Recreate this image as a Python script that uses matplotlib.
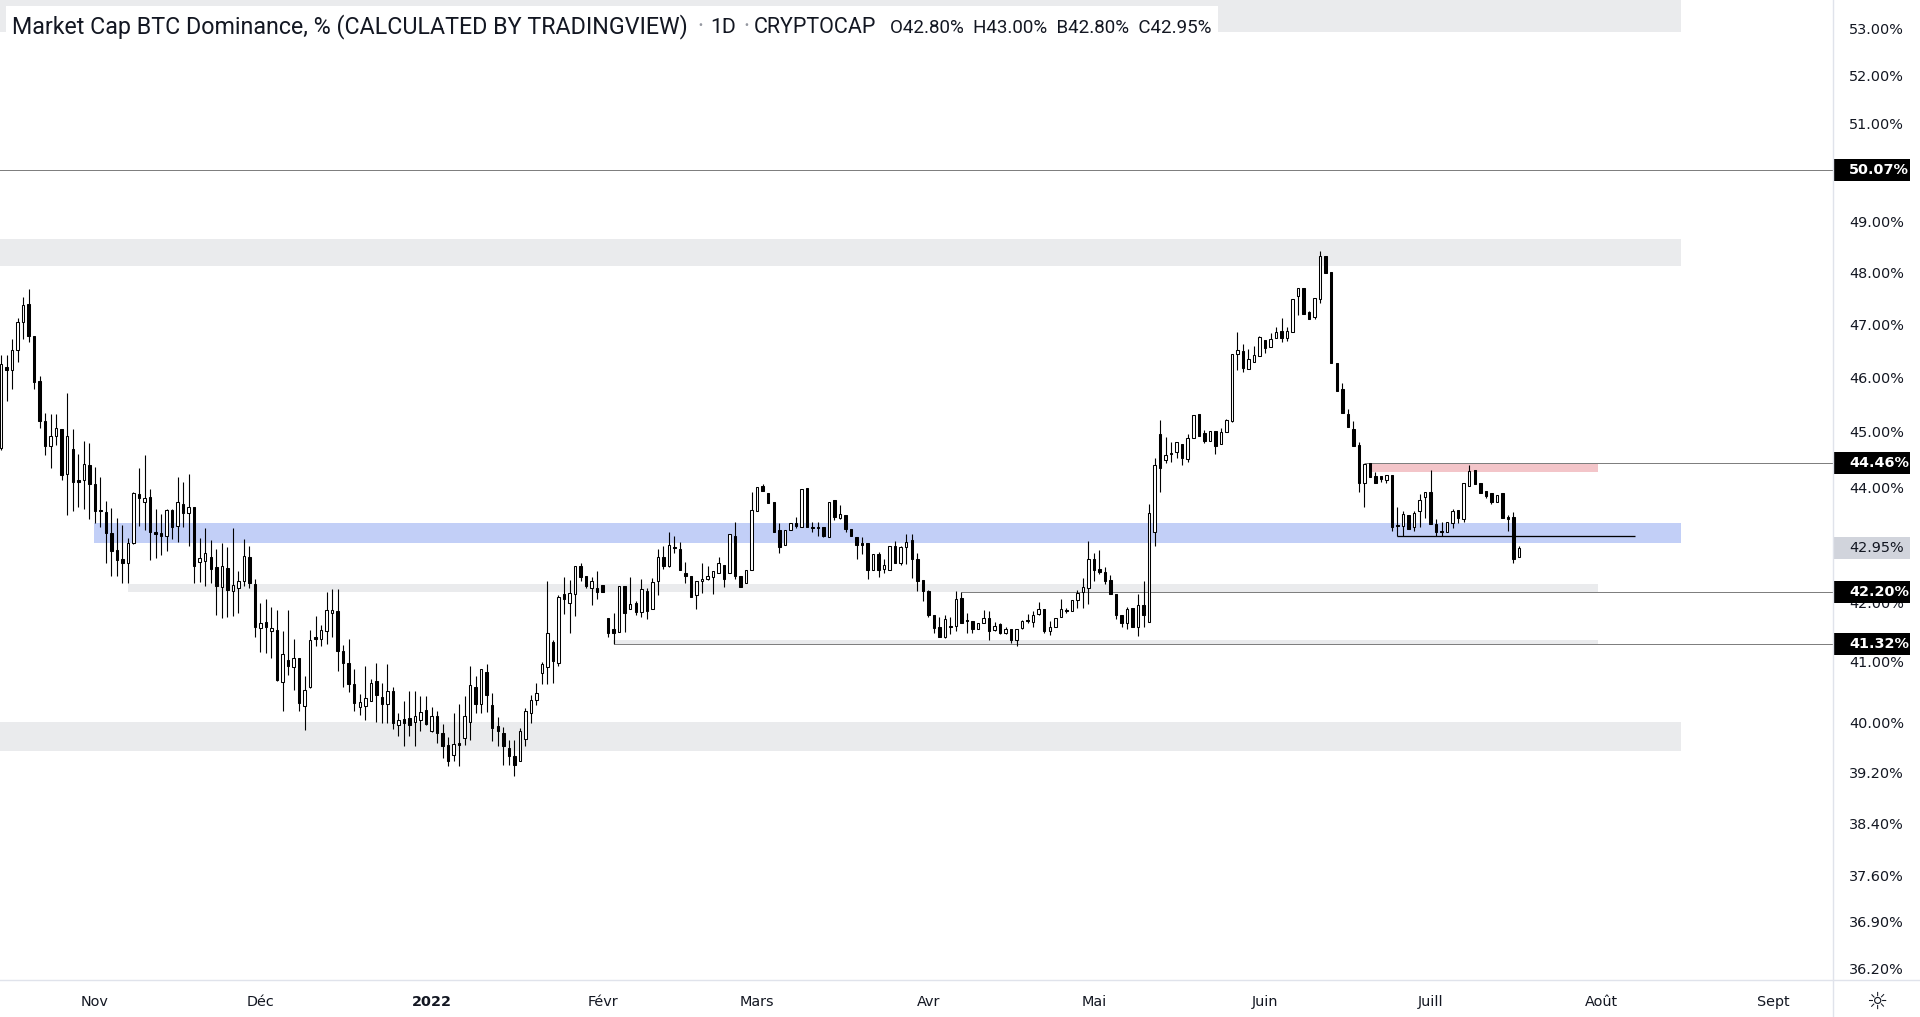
import matplotlib
matplotlib.use("Agg")
import matplotlib.pyplot as plt
import matplotlib.dates as mdates
from matplotlib.patches import Rectangle
from matplotlib.lines import Line2D
from matplotlib.ticker import NullLocator
import numpy as np
import pandas as pd

# ---------------- data ----------------
start_date = "2021-10-15"

opens = [
    44.73, 46.22, 46.17, 46.54, 47.07, 47.42, 46.81, 45.97, 45.23, 44.78,
    44.96, 45.08, 44.26, 44.72, 44.16, 44.15, 44.43, 44.09, 43.63, 43.59,
    43.22, 42.93, 42.76, 42.69, 43.04, 43.91, 43.76, 43.85, 43.23, 43.22,
    43.17, 43.63, 43.35, 43.74, 43.57, 43.67, 42.71, 42.74, 42.80, 42.63,
    42.29, 42.61, 42.22, 42.26, 42.38, 42.80, 42.34, 41.59, 41.69, 41.53,
    41.56, 40.69, 41.05, 40.94, 41.09, 40.30, 40.60, 41.43, 41.41, 41.53,
    41.85, 41.88, 41.20, 41.00, 40.66, 40.27, 40.30, 40.38, 40.71, 40.44,
    40.32, 40.54, 39.98, 40.08, 40.10, 40.03, 40.06, 40.23, 39.89, 40.13,
    39.85, 39.66, 39.51, 39.69, 39.77, 40.04, 40.60, 40.32, 40.85, 40.31,
    39.97, 39.85, 39.61, 39.49, 39.41, 39.76, 40.18, 40.40, 40.83, 40.93,
    41.36, 41.00, 42.17, 42.02, 42.16, 42.64, 42.47, 42.26, 42.27, 42.32,
    41.75, 41.57, 41.52, 42.30, 41.91, 42.02, 41.86, 42.22, 41.91, 42.38,
    42.80, 42.65, 42.98, 42.94, 42.52, 42.48, 42.14, 42.38, 42.43, 42.46,
    42.52, 42.66, 42.52, 43.17, 42.48, 42.35, 42.57, 43.60, 44.05, 43.92,
    43.76, 43.27, 43.01, 43.28, 43.39, 43.33, 44.01, 43.33, 43.32, 43.32,
    43.15, 43.80, 43.48, 43.54, 43.29, 43.15, 43.04, 43.04, 42.57, 42.85,
    42.59, 42.58, 43.00, 42.69, 42.97, 43.10, 42.76, 42.41, 42.22, 41.81,
    41.61, 41.43, 41.63, 41.63, 42.09, 41.72, 41.71, 41.57, 41.68, 41.75,
    41.55, 41.65, 41.50, 41.57, 41.38, 41.59, 41.72, 41.69, 41.82, 41.91,
    41.53, 41.60, 41.77, 41.89, 41.88, 42.06, 42.20, 42.26, 42.77, 42.60,
    42.54, 42.41, 42.17, 41.81, 41.68, 41.92, 41.61, 41.97, 41.69, 43.24,
    44.99, 44.51, 44.65, 44.66, 44.80, 44.54, 44.91, 45.35, 45.00, 44.87,
    45.05, 44.80, 45.02, 45.23, 46.48, 46.53, 46.19, 46.33, 46.44, 46.74,
    46.61, 46.77, 46.91, 46.77, 46.88, 47.57, 47.74, 47.27, 47.17, 47.51,
    48.36, 48.04, 46.30, 45.81, 45.36, 45.08, 44.79, 44.10, 44.47, 44.23,
    44.23, 44.16, 44.25, 43.36, 43.35, 43.54, 43.32, 43.60, 43.85, 43.94,
    43.37, 43.26, 43.24, 43.39, 43.63, 43.47, 44.06, 44.34, 44.10, 43.96,
    43.92, 43.77, 43.92, 43.50, 43.50, 42.80,
]
highs = [
    46.45, 46.45, 46.76, 47.16, 47.56, 47.71, 46.81, 46.06, 45.37, 45.36,
    45.36, 45.08, 45.74, 45.08, 44.63, 44.86, 44.83, 44.40, 44.21, 43.79,
    43.66, 43.48, 43.36, 43.13, 43.94, 44.37, 44.61, 44.00, 43.64, 43.56,
    43.64, 43.64, 44.21, 44.12, 44.27, 43.67, 43.14, 43.31, 43.10, 42.94,
    43.05, 42.97, 43.31, 42.56, 43.11, 42.99, 42.42, 42.01, 42.08, 41.94,
    41.89, 41.53, 41.89, 41.40, 41.09, 40.79, 41.56, 41.79, 41.64, 42.20,
    42.25, 42.25, 41.30, 41.40, 40.90, 40.49, 40.95, 40.74, 41.00, 40.67,
    40.99, 40.60, 40.18, 40.38, 40.54, 40.54, 40.46, 40.46, 40.28, 40.21,
    40.00, 39.79, 40.18, 40.33, 40.45, 40.96, 40.79, 40.90, 40.99, 40.50,
    40.12, 39.96, 39.74, 39.74, 39.93, 40.26, 40.48, 40.67, 41.02, 42.39,
    41.38, 42.14, 42.46, 42.41, 42.64, 42.69, 42.47, 42.46, 42.56, 42.32,
    41.75, 41.84, 42.30, 42.30, 42.46, 42.05, 42.42, 42.26, 42.44, 42.94,
    43.00, 43.23, 43.17, 43.07, 42.71, 42.48, 42.38, 42.69, 42.64, 42.56,
    42.81, 42.66, 43.20, 43.42, 42.48, 42.58, 43.94, 44.03, 44.09, 43.92,
    43.76, 43.39, 43.27, 43.39, 43.50, 43.99, 44.01, 43.41, 43.41, 43.32,
    43.77, 43.80, 43.71, 43.54, 43.29, 43.15, 43.15, 43.04, 42.85, 42.89,
    42.77, 43.00, 43.08, 42.99, 43.21, 43.21, 42.88, 42.41, 42.23, 41.81,
    41.77, 41.81, 41.77, 42.22, 42.20, 41.84, 41.71, 41.67, 41.89, 41.87,
    41.69, 41.67, 41.60, 41.57, 41.57, 41.72, 41.82, 41.88, 42.03, 41.91,
    41.71, 41.75, 42.08, 41.93, 42.06, 42.24, 42.44, 43.08, 42.88, 42.92,
    42.63, 42.49, 42.17, 41.81, 41.94, 41.92, 42.16, 42.39, 43.74, 44.56,
    45.25, 44.93, 44.84, 44.84, 44.80, 44.99, 45.34, 45.35, 45.06, 45.05,
    45.05, 45.10, 45.26, 46.47, 46.88, 46.67, 46.57, 46.62, 46.81, 46.74,
    46.86, 46.98, 47.15, 46.98, 47.51, 47.73, 47.74, 47.29, 47.53, 48.45,
    48.36, 48.04, 46.30, 45.93, 45.45, 45.23, 44.85, 44.44, 44.47, 44.31,
    44.23, 44.25, 44.25, 43.67, 43.61, 43.54, 43.61, 43.91, 43.94, 44.34,
    43.46, 43.41, 43.41, 43.64, 43.63, 44.10, 44.43, 44.34, 44.10, 43.96,
    43.92, 43.89, 43.92, 43.54, 43.59, 43.00,
]
lows = [
    44.70, 45.60, 45.82, 46.33, 46.76, 46.69, 45.81, 45.10, 44.61, 44.38,
    44.79, 44.15, 43.53, 43.61, 43.68, 43.64, 43.47, 43.40, 43.33, 42.69,
    42.47, 42.47, 42.35, 42.35, 43.02, 43.34, 43.27, 42.75, 42.78, 42.83,
    42.91, 43.11, 43.07, 43.33, 42.99, 42.35, 42.37, 42.31, 42.35, 41.81,
    41.75, 41.78, 41.79, 41.85, 42.30, 42.26, 41.44, 41.18, 41.17, 41.08,
    40.70, 40.22, 40.81, 40.56, 40.22, 39.90, 40.59, 41.28, 41.28, 41.32,
    41.43, 40.87, 40.60, 40.53, 40.22, 40.14, 40.07, 40.37, 40.04, 40.01,
    40.01, 39.92, 39.80, 39.64, 39.80, 39.65, 39.89, 39.99, 39.87, 39.69,
    39.46, 39.32, 39.40, 39.32, 39.66, 39.74, 40.18, 40.18, 40.19, 39.73,
    39.64, 39.34, 39.34, 39.16, 39.41, 39.64, 40.01, 40.31, 40.66, 40.66,
    40.67, 40.95, 41.83, 41.50, 41.79, 42.38, 42.27, 41.97, 42.08, 42.20,
    41.44, 41.32, 41.52, 41.52, 41.91, 41.80, 41.78, 41.74, 41.91, 42.14,
    42.59, 42.63, 42.87, 42.57, 42.35, 42.12, 41.91, 42.18, 42.41, 42.16,
    42.52, 42.29, 42.52, 42.42, 42.29, 42.35, 42.57, 43.60, 43.97, 43.75,
    43.23, 42.88, 43.01, 43.28, 43.30, 43.33, 43.32, 43.24, 43.16, 43.15,
    43.15, 43.45, 43.46, 43.24, 43.16, 42.77, 42.85, 42.42, 42.57, 42.46,
    42.52, 42.58, 42.69, 42.67, 42.68, 42.44, 42.21, 42.04, 41.78, 41.51,
    41.43, 41.42, 41.49, 41.54, 41.68, 41.50, 41.50, 41.57, 41.68, 41.38,
    41.54, 41.49, 41.49, 41.34, 41.28, 41.57, 41.67, 41.60, 41.81, 41.50,
    41.47, 41.60, 41.77, 41.85, 41.88, 41.93, 41.93, 41.99, 42.39, 42.50,
    42.34, 42.16, 41.74, 41.60, 41.57, 41.60, 41.46, 41.60, 41.69, 42.99,
    43.95, 44.46, 44.49, 44.56, 44.42, 44.49, 44.91, 44.96, 44.82, 44.87,
    44.63, 44.80, 45.02, 45.21, 46.17, 46.14, 46.19, 46.33, 46.44, 46.50,
    46.61, 46.77, 46.69, 46.72, 46.88, 47.21, 47.24, 47.14, 47.13, 47.45,
    48.02, 46.31, 45.78, 45.37, 45.11, 44.78, 43.95, 43.67, 44.22, 44.11,
    44.13, 44.11, 43.26, 43.16, 43.16, 43.29, 43.25, 43.33, 43.49, 43.37,
    43.17, 43.17, 43.24, 43.31, 43.39, 43.41, 44.06, 44.08, 43.93, 43.84,
    43.74, 43.77, 43.49, 43.26, 42.70, 42.80,
]
closes = [
    46.28, 46.18, 46.54, 47.08, 47.40, 46.82, 45.95, 45.22, 44.78, 44.95,
    45.09, 44.25, 44.95, 44.13, 44.13, 44.45, 44.09, 43.60, 43.60, 43.22,
    42.91, 42.75, 42.70, 43.04, 43.92, 43.83, 43.83, 43.23, 43.21, 43.17,
    43.63, 43.33, 43.76, 43.57, 43.67, 42.65, 42.78, 42.87, 42.60, 42.31,
    42.65, 42.24, 42.32, 42.39, 42.82, 42.36, 41.61, 41.67, 41.61, 41.58,
    40.72, 41.15, 40.96, 41.09, 40.35, 40.56, 41.39, 41.41, 41.56, 41.89,
    41.89, 41.21, 41.00, 40.66, 40.35, 40.36, 40.43, 40.67, 40.48, 40.33,
    40.54, 40.02, 40.07, 40.01, 39.99, 40.13, 40.19, 40.00, 40.13, 39.85,
    39.64, 39.40, 39.68, 39.67, 40.13, 40.64, 40.32, 40.90, 40.48, 39.94,
    39.89, 39.64, 39.49, 39.34, 39.89, 40.21, 40.39, 40.50, 40.99, 41.50,
    41.04, 42.12, 42.08, 42.18, 42.64, 42.46, 42.30, 42.39, 42.20, 42.20,
    41.50, 41.50, 42.30, 41.85, 41.99, 41.86, 42.25, 41.88, 42.37, 42.80,
    42.65, 43.01, 42.96, 42.57, 42.48, 42.12, 42.38, 42.42, 42.47, 42.56,
    42.69, 42.43, 43.20, 42.48, 42.29, 42.58, 43.63, 44.03, 43.97, 43.75,
    43.23, 42.98, 43.27, 43.39, 43.35, 43.99, 43.32, 43.31, 43.31, 43.17,
    43.77, 43.51, 43.56, 43.29, 43.16, 43.01, 43.01, 42.57, 42.85, 42.58,
    42.66, 43.00, 42.69, 42.97, 43.07, 42.76, 42.39, 42.21, 41.81, 41.58,
    41.43, 41.74, 41.60, 42.08, 41.68, 41.70, 41.57, 41.67, 41.76, 41.54,
    41.63, 41.50, 41.57, 41.38, 41.57, 41.71, 41.71, 41.80, 41.91, 41.53,
    41.60, 41.75, 41.91, 41.88, 42.06, 42.18, 42.28, 42.77, 42.57, 42.54,
    42.39, 42.16, 41.81, 41.68, 41.91, 41.60, 41.98, 41.81, 43.57, 44.43,
    44.37, 44.60, 44.63, 44.84, 44.55, 44.91, 45.34, 44.96, 44.87, 45.05,
    44.78, 45.03, 45.25, 46.47, 46.55, 46.20, 46.37, 46.46, 46.79, 46.59,
    46.76, 46.88, 46.78, 46.91, 47.51, 47.73, 47.24, 47.14, 47.53, 48.36,
    48.02, 46.31, 45.78, 45.37, 45.11, 44.78, 44.11, 44.44, 44.22, 44.11,
    44.17, 44.25, 43.33, 43.34, 43.56, 43.29, 43.58, 43.80, 43.94, 43.37,
    43.23, 43.24, 43.41, 43.61, 43.49, 44.10, 44.32, 44.08, 43.93, 43.88,
    43.76, 43.89, 43.49, 43.47, 42.77, 42.95,
]

# visible price-scale labels (50.00 and 43.00 sit fully under the marks in the reference)
ytick_values = [53.0, 52.0, 51.0, 49.0, 48.0, 47.0, 46.0, 45.0, 44.0,
                42.0, 41.0, 40.0, 39.2, 38.4, 37.6, 36.9, 36.2]
month_dates = ["2021-11-01", "2021-12-01", "2022-01-01", "2022-02-01", "2022-03-01",
               "2022-04-01", "2022-05-01", "2022-06-01", "2022-07-01", "2022-08-01",
               "2022-09-01"]
month_labels = ["Nov", "Déc", "2022", "Févr", "Mars", "Avr", "Mai", "Juin", "Juill",
                "Août", "Sept"]

# price marks on the right scale: (value, box colour, text colour)
price_marks = [(50.07, "#000000", "#ffffff"), (44.46, "#000000", "#ffffff"),
               (42.95, "#d1d4dc", "#131722"), (42.20, "#000000", "#ffffff"),
               (41.32, "#000000", "#ffffff")]

# drawn zones (start, end, low, high, colour)
zones = [
    ("2021-10-14", "2022-08-15 07:00", 52.95, 55.0, "#eaebed"),
    ("2021-10-14", "2022-08-15 07:00", 48.15, 48.69, "#eaebed"),
    ("2021-10-14", "2022-08-15 07:00", 39.57, 40.04, "#eaebed"),
    ("2021-10-31 21:00", "2022-08-15 07:00", 43.05, 43.40, "#c2cff7"),
    ("2021-11-07", "2022-07-31 07:00", 42.20, 42.34, "#eaebed"),
    ("2022-02-02 23:00", "2022-07-31 07:00", 41.32, 41.39, "#eaebed"),
    ("2022-06-20 10:00", "2022-07-31 07:00", 44.31, 44.46, "#f3c5c9"),
]
# horizontal lines (value, start, end or None for ray to the right, colour, width)
hlines = [
    (50.07, "2021-10-14", None, "#7f7f7f", 1.0),
    (44.46, "2022-06-19", None, "#7f7f7f", 1.0),
    (42.20, "2022-04-07", None, "#7f7f7f", 1.0),
    (41.32, "2022-02-03", None, "#7f7f7f", 1.0),
    (43.17, "2022-06-25", "2022-08-07 02:00", "#000000", 1.3),
]

# ---------------- figure ----------------
W, H = 1920, 1017
fig = plt.figure(figsize=(W / 100, H / 100), dpi=100)
fig.patch.set_facecolor("white")
plot_w, plot_h = 1833, 980
ax = fig.add_axes([0, (H - plot_h) / H, plot_w / W, plot_h / H])
ax.set_facecolor("white")
for s in ax.spines.values():
    s.set_visible(False)

dates = pd.date_range(start_date, periods=len(opens), freq="D")
x = mdates.date2num(dates)
o = np.array(opens); h = np.array(highs); l = np.array(lows); c = np.array(closes)

x0 = mdates.date2num(pd.Timestamp(start_date))
ax.set_xlim(x0 - 0.18, x0 + 331.9)
ax.set_yscale("log")
ymin, ymax = 36.06, 53.64
ax.set_ylim(ymin, ymax)
ax.yaxis.set_major_locator(NullLocator())
ax.yaxis.set_minor_locator(NullLocator())
ax.xaxis.set_major_locator(NullLocator())
ax.xaxis.set_minor_locator(NullLocator())
ax.tick_params(left=False, bottom=False, labelleft=False, labelbottom=False)

for (s0, s1, v0, v1, col) in zones:
    a = mdates.date2num(pd.Timestamp(s0)); b = mdates.date2num(pd.Timestamp(s1))
    ax.add_patch(Rectangle((a, v0), b - a, v1 - v0, facecolor=col, edgecolor="none", zorder=1))

xr = ax.get_xlim()[1]
for (v, s0, s1, col, lw) in hlines:
    a = mdates.date2num(pd.Timestamp(s0))
    b = xr if s1 is None else mdates.date2num(pd.Timestamp(s1))
    ax.plot([a, b], [v, v], color=col, lw=lw * 0.72, zorder=2, solid_capstyle="butt")

# candles
ax.vlines(x, l, h, color="black", lw=0.8, zorder=3)
up = c >= o
bw = 0.45
ax.bar(x[up], (c - o)[up], bottom=o[up], width=bw, facecolor="white",
       edgecolor="black", linewidth=0.75, zorder=4)
ax.bar(x[~up], (o - c)[~up], bottom=c[~up], width=bw, facecolor="black",
       edgecolor="black", linewidth=0.75, zorder=4)

# title background box
fig.patches.append(Rectangle((6 / W, 1 - 40 / H), (1218 - 6) / W, 34 / H,
                             transform=fig.transFigure, facecolor="white",
                             edgecolor="none", zorder=5))

# right price scale labels
ytr = ax.get_yaxis_transform()
fs_axis = 10.4
for v in ytick_values:
    ax.text(1.0087, v, f"{v:.2f}%", transform=ytr, ha="left", va="center",
            fontsize=fs_axis, color="#131722", clip_on=False, zorder=5)
half = (ymax / ymin) ** (11.0 / plot_h)
for (v, fc, tc) in price_marks:
    ax.add_patch(Rectangle((1.0, v / half), 77 / plot_w, v * half - v / half,
                           transform=ytr, facecolor=fc, edgecolor="none",
                           clip_on=False, zorder=6))
    ax.text(1.0087, v, f"{v:.2f}%", transform=ytr, ha="left", va="center",
            fontsize=fs_axis, color=tc, clip_on=False, zorder=7,
            fontweight="bold" if fc == "#000000" else "normal")

# time scale labels
xtr = ax.get_xaxis_transform()
for d, lab in zip(month_dates, month_labels):
    ax.text(mdates.date2num(pd.Timestamp(d)), -21.6 / plot_h, lab, transform=xtr,
            ha="center", va="center", fontsize=fs_axis, color="#131722",
            clip_on=False, fontweight="bold" if lab == "2022" else "normal")

# separators
fig.add_artist(Line2D([plot_w / W] * 2, [0, 1], transform=fig.transFigure,
                      color="#e0e3eb", lw=1.0))
fig.add_artist(Line2D([0, 1], [(H - plot_h) / H] * 2, transform=fig.transFigure,
                      color="#e0e3eb", lw=1.0))
fig.text(1877 / W, 1 - 1002 / H, "☼", fontsize=17, ha="center", va="center",
         color="#131722")

# ---------------- title ----------------
fig.canvas.draw()
renderer = fig.canvas.get_renderer()

def fit(t, width_px):
    bb = t.get_window_extent(renderer)
    t.set_fontsize(t.get_fontsize() * width_px / bb.width)

base_y = 1 - 33 / H
tfont = "Roboto"
t1 = fig.text(12 / W, base_y, "Market Cap BTC Dominance, % (CALCULATED BY TRADINGVIEW)",
              fontsize=16, family=tfont, color="#131722", va="baseline", zorder=6)
fit(t1, 677)
fsz = t1.get_fontsize()
for xp, s in [(697, "·"), (743, "·")]:
    fig.text(xp / W, base_y, s, fontsize=fsz, family=tfont, color="#9598a1",
             va="baseline", zorder=6)
t_1d = fig.text(710 / W, base_y, "1D", fontsize=fsz, family=tfont, color="#131722",
                va="baseline", zorder=6)
fit(t_1d, 26)
t_cc = fig.text(754 / W, base_y, "CRYPTOCAP", fontsize=fsz, family=tfont,
                color="#131722", va="baseline", zorder=6)
fit(t_cc, 123)
t3 = fig.text(890 / W, base_y, "O42.80%  H43.00%  B42.80%  C42.95%", fontsize=13,
              family=tfont, color="#131722", va="baseline", zorder=6)
fit(t3, 321)

fig.savefig("out.png", dpi=100, facecolor="white")
